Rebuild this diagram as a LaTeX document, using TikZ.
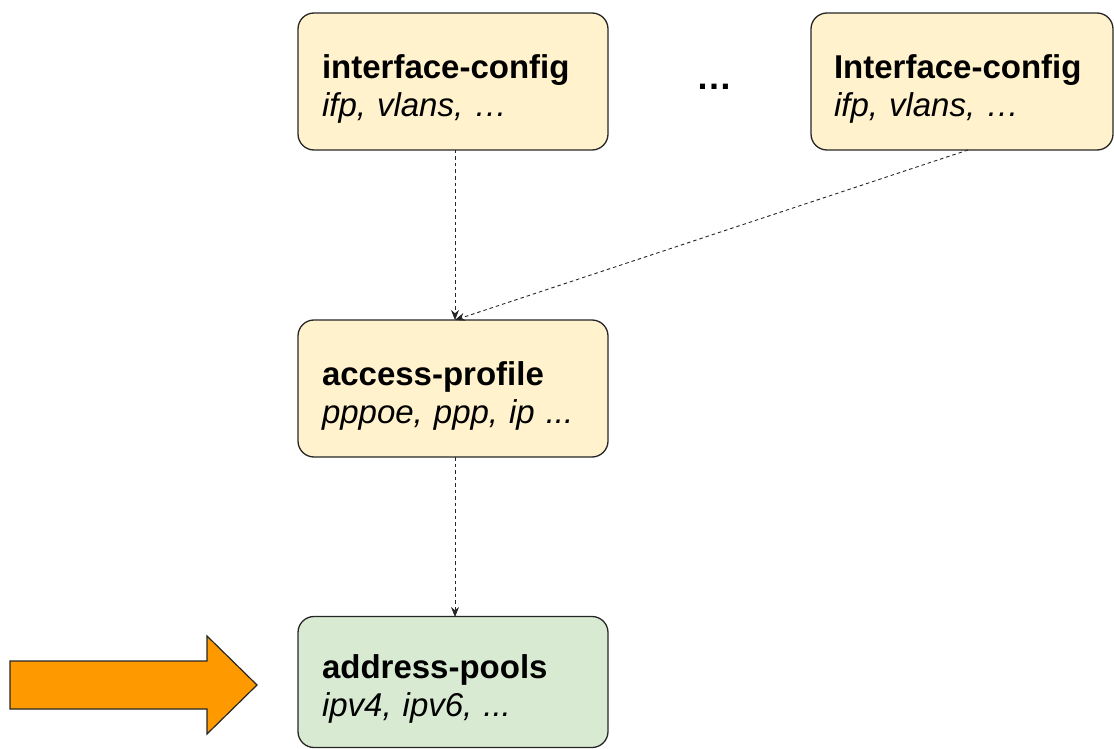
\documentclass[tikz,border=0pt]{standalone}
\usepackage{fontspec}
\setmainfont{Liberation Sans}
\usetikzlibrary{arrows.meta}
\definecolor{boxyellow}{HTML}{FFF2CC}
\definecolor{boxgreen}{HTML}{D9EAD3}
\definecolor{orangearrow}{HTML}{FF9900}
\newcommand{\topstrut}{\rule{0pt}{38pt}}
\tikzset{
  cfgbox/.style={draw=black!85, line width=1.3pt, rounded corners=16pt, fill=boxyellow,
    minimum width=310pt, minimum height=137pt, text width=262pt, align=left,
    inner sep=0pt, font=\fontsize{33}{38}\selectfont},
  greenbox/.style={cfgbox, fill=boxgreen},
  link/.style={draw=black!85, line width=0.9pt, dash pattern=on 3.5pt off 3pt,
    -{Stealth[length=10pt,width=8pt]}},
}
\begin{document}
\begin{tikzpicture}[x=1pt,y=-1pt]
\useasboundingbox (0,0) rectangle (1114,749);
\node[cfgbox] (ic1) at (453,81.5) {\topstrut\textbf{interface-config}\\\textit{ifp, vlans, …}};
\node[cfgbox, minimum width=302pt, text width=256pt] (ic2) at (962,81.5) {\topstrut\textbf{Interface-config}\\\textit{ifp, vlans, …}};
\node[cfgbox] (ap) at (453,388.5) {\topstrut\textbf{access-profile}\\\textit{pppoe, ppp, ip ...}};
\node[greenbox, minimum height=131pt] (pools) at (453,682) {\topstrut\textbf{address-pools}\\\textit{ipv4, ipv6, ...}};
\node[font=\fontsize{36}{36}\selectfont\bfseries] (dots) at (714,87) {…};
\coordinate (ic1s) at (455,150);
\coordinate (ic2s) at (968,150);
\coordinate (apn) at (455,320);
\coordinate (aps) at (455,457);
\coordinate (pn) at (455,617);
\draw[link] (ic1s) -- (apn);
\draw[link] (ic2s) -- (apn);
\draw[link] (aps) -- (pn);
\draw[draw=black!85, line width=1.2pt, fill=orangearrow]
  (10,661) -- (207,661) -- (207,636) -- (257,685) -- (207,734) -- (207,709) -- (10,709) -- cycle;
\end{tikzpicture}
\end{document}
